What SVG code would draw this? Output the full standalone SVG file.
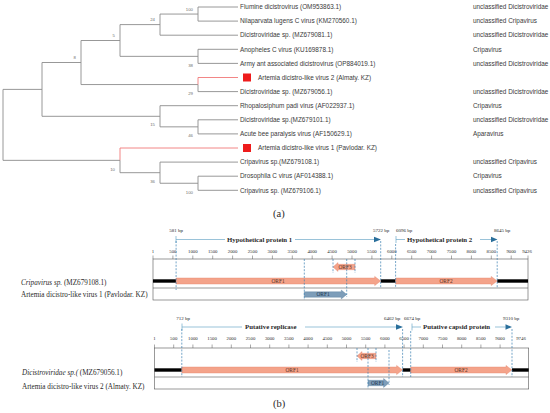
<svg xmlns="http://www.w3.org/2000/svg" width="550" height="413" viewBox="0 0 550 413">
<style>
.br{fill:none;stroke:#8c8c8c;stroke-width:0.9}
.red{fill:none;stroke:#f07878;stroke-width:0.9}
.tip{font-family:"Liberation Sans",Arial,sans-serif;font-size:6.4px;fill:#3a3a3a}
.bs{font-family:"Liberation Sans",Arial,sans-serif;font-size:4.3px;fill:#707070;text-anchor:end}
.sq{fill:#ee1c1c}
.sr{font-family:"Liberation Serif","Times New Roman",serif;fill:#2a2a2a}
.ax{font-size:4.8px;text-anchor:middle}
.bp{font-size:5px;text-anchor:middle}
.pn{font-size:6.8px;font-weight:bold}
.lb{font-size:7.2px}
.box{fill:none;stroke:#555;stroke-width:0.6}
.tk{stroke:#555;stroke-width:0.5}
.bar{fill:#000}
.orf{fill:#f4a38a;stroke:#e4846a;stroke-width:0.4}
.orfb{fill:#7d9db9;stroke:#5c819f;stroke-width:0.4}
.ol{font-family:"Liberation Serif","Times New Roman",serif;font-size:5.4px;text-anchor:middle;fill:#5a2e20}
.olb{font-family:"Liberation Serif","Times New Roman",serif;font-size:5.4px;text-anchor:middle;fill:#1e3650}
.dash{stroke:#3b7fb1;stroke-width:0.7;stroke-dasharray:2 1.4}
.pl{stroke:#6fa9c9;stroke-width:0.7;fill:none}
.ah{fill:#2a6f9b}
</style>

<!-- ===== (a) phylogenetic tree ===== -->
<g id="connectors">
<path class="br" d="M3,89.4V160.35M3,89.4H42M3,160.35H120"/>
<path class="br" d="M42,62.5V116.3M42,62.5H81M42,116.3H160"/>
<path class="br" d="M81,40.5V84.55M81,40.5H120M81,84.55H198"/>
<path class="br" d="M120,24.6V56.35M120,24.6H160M120,56.35H198"/>
<path class="br" d="M160,14.05V35.2M160,14.05H198M160,35.2H238"/>
<path class="br" d="M198,7V21.1M198,7H238M198,21.1H238"/>
<path class="br" d="M198,49.3V63.4M198,49.3H238M198,63.4H238"/>
<path class="br" d="M198,84.55V91.6M198,91.6H238"/>
<path class="red" d="M198,84.55V77.5H238"/>
<path class="br" d="M160,105.7V126.85M160,105.7H238M160,126.85H198"/>
<path class="br" d="M198,119.8V133.9M198,119.8H238M198,133.9H238"/>
<path class="red" d="M120,160.35V148H238"/>
<path class="br" d="M120,160.35V172.7H160"/>
<path class="br" d="M160,162.1V183.25M160,162.1H238M160,183.25H198"/>
<path class="br" d="M198,176.2V190.3M198,176.2H238M198,190.3H238"/>
</g>

<g id="bootstrap">
<text class="bs" x="193" y="10.5">100</text>
<text class="bs" x="155" y="21.1">24</text>
<text class="bs" x="115" y="37">5</text>
<text class="bs" x="193" y="66.9">38</text>
<text class="bs" x="76" y="59">8</text>
<text class="bs" x="193" y="95">29</text>
<text class="bs" x="155" y="126">15</text>
<text class="bs" x="193" y="137.4">46</text>
<text class="bs" x="115" y="170.9">10</text>
<text class="bs" x="155" y="183.2">36</text>
<text class="bs" x="193" y="193.8">100</text>
</g>

<g id="tip-flumine"><text class="tip" x="240" y="9.2">Flumine dicistrovirus (OM953863.1)</text><text class="tip" x="473" y="9.2">unclassified Dicistroviridae</text></g>
<g id="tip-nilaparvata"><text class="tip" x="240" y="23.3">Nilaparvata lugens C virus (KM270560.1)</text><text class="tip" x="473" y="23.3">unclassified Cripavirus</text></g>
<g id="tip-mz679081"><text class="tip" x="240" y="37.4">Dicistroviridae sp. (MZ679081.1)</text><text class="tip" x="473" y="37.4">unclassified Dicistroviridae</text></g>
<g id="tip-anopheles"><text class="tip" x="240" y="51.5">Anopheles C virus (KU169878.1)</text><text class="tip" x="473" y="51.5">Cripavirus</text></g>
<g id="tip-armyant"><text class="tip" x="240" y="65.6">Army ant associated dicistrovirus (OP884019.1)</text><text class="tip" x="473" y="65.6">unclassified Dicistroviridae</text></g>
<g id="tip-artemia2"><rect class="sq" x="243" y="73.5" width="8" height="8"/><text class="tip" x="258" y="79.7">Artemia dicistro-like virus 2 (Almaty. KZ)</text></g>
<g id="tip-mz679056"><text class="tip" x="240" y="93.8">Dicistroviridae sp. (MZ679056.1)</text><text class="tip" x="473" y="93.8">unclassified Dicistroviridae</text></g>
<g id="tip-rhopalosiphum"><text class="tip" x="240" y="107.9">Rhopalosiphum padi virus (AF022937.1)</text><text class="tip" x="473" y="107.9">Cripavirus</text></g>
<g id="tip-mz679101"><text class="tip" x="240" y="122">Dicistroviridae sp.(MZ679101.1)</text><text class="tip" x="473" y="122">unclassified Dicistroviridae</text></g>
<g id="tip-acutebee"><text class="tip" x="240" y="136.1">Acute bee paralysis virus (AF150629.1)</text><text class="tip" x="473" y="136.1">Aparavirus</text></g>
<g id="tip-artemia1"><rect class="sq" x="243" y="144" width="8" height="8"/><text class="tip" x="258" y="150.2">Artemia dicistro-like virus 1 (Pavlodar. KZ)</text></g>
<g id="tip-mz679108"><text class="tip" x="240" y="164.3">Cripavirus sp.(MZ679108.1)</text><text class="tip" x="473" y="164.3">unclassified Cripavirus</text></g>
<g id="tip-drosophila"><text class="tip" x="240" y="178.4">Drosophila C virus (AF014388.1)</text><text class="tip" x="473" y="178.4">Cripavirus</text></g>
<g id="tip-mz679106"><text class="tip" x="240" y="192.5">Cripavirus sp. (MZ679106.1)</text><text class="tip" x="473" y="192.5">unclassified Cripavirus</text></g>

<text class="sr" x="273" y="216.5" font-size="10.5">(a)</text>

<!-- ===== (b) genome map 1 ===== -->
<g id="genome1">
<g class="sr bp">
<text x="176" y="231.5">581 bp</text>
<text x="381" y="231.5">5722 bp</text>
<text x="404" y="231.5">6096 bp</text>
<text x="502" y="231.5">8645 bp</text>
</g>
<path class="pl" d="M176,236V243M176,239.5H225M295,239.5H375M396,236V243M396,239.5H405M480,239.5H491"/>
<path class="ah" d="M374,236.8L381,239.5L374,242.2Z M491,236.8L497.5,239.5L491,242.2Z"/>
<text class="sr pn" x="227" y="241.9">Hypothetical protein 1</text>
<text class="sr pn" x="407" y="241.9">Hypothetical protein 2</text>
<g class="sr ax">
<text x="153" y="252.5">1</text><text x="172.9" y="252.5">500</text><text x="192.8" y="252.5">1000</text><text x="212.7" y="252.5">1500</text><text x="232.6" y="252.5">2000</text><text x="252.5" y="252.5">2500</text><text x="272.4" y="252.5">3000</text><text x="292.3" y="252.5">3500</text><text x="312.2" y="252.5">4000</text><text x="332.1" y="252.5">4500</text><text x="352" y="252.5">5000</text><text x="371.9" y="252.5">5500</text><text x="391.8" y="252.5">6000</text><text x="411.7" y="252.5">6500</text><text x="431.6" y="252.5">7000</text><text x="451.5" y="252.5">7500</text><text x="471.4" y="252.5">8000</text><text x="491.3" y="252.5">8500</text><text x="511.2" y="252.5">9000</text><text x="527" y="252.5">9426</text>
</g>
<path class="tk" d="M153,255.5V259M172.9,255.5V259M192.8,255.5V259M212.7,255.5V259M232.6,255.5V259M252.5,255.5V259M272.4,255.5V259M292.3,255.5V259M312.2,255.5V259M332.1,255.5V259M352,255.5V259M371.9,255.5V259M391.8,255.5V259M411.7,255.5V259M431.6,255.5V259M451.5,255.5V259M471.4,255.5V259M491.3,255.5V259M511.2,255.5V259M528,255.5V259"/>
<rect class="box" x="153" y="259" width="375" height="41"/>
<line class="box" x1="153" y1="288" x2="528" y2="288"/>
<rect class="bar" x="153" y="279.3" width="23.1" height="3.4"/>
<rect class="bar" x="380.7" y="279.3" width="14.9" height="3.4"/>
<rect class="bar" x="497.2" y="279.3" width="30.8" height="3.4"/>
<path class="orf" d="M176.1,278H374.7V276.4L380.7,281L374.7,285.6V284H176.1Z"/>
<path class="orf" d="M395.6,278H491.2V276.4L497.2,281L491.2,285.6V284H395.6Z"/>
<path class="orf" d="M355,264.3H338V262.6L333,267L338,271.4V269.7H355Z"/>
<path class="orfb" d="M304.3,291.8H341.3V290.1L346.7,294.5L341.3,298.9V297.2H304.3Z"/>
<text class="ol" x="278" y="282.9">ORF1</text>
<text class="ol" x="446" y="282.9">ORF2</text>
<text class="ol" x="345" y="268.9">ORF3</text>
<text class="olb" x="323" y="296.4">ORF1</text>
<path class="dash" d="M176.1,241V290M380.7,241V288M395.6,244V288M497.2,241V288M304.3,259V300M346.7,259V297M333,259V273M355,259V273"/>
<text class="sr lb" x="21" y="284.5"><tspan font-style="italic">Cripavirus sp.</tspan> (MZ679108.1)</text>
<text class="sr lb" x="21" y="297">Artemia dicistro-like virus 1 (Pavlodar. KZ)</text>
</g>

<!-- ===== (b) genome map 2 ===== -->
<g id="genome2">
<g class="sr bp">
<text x="183" y="319.5">712 bp</text>
<text x="392" y="319.5">6462 bp</text>
<text x="412" y="319.5">6674 bp</text>
<text x="511" y="319.5">9310 bp</text>
</g>
<path class="pl" d="M182,323.5V330.5M182,327H242M305,327H396M412,323.5V330.5M412,327H421M495,327H505.5"/>
<path class="ah" d="M396,324.3L403,327L396,329.7Z M505.5,324.3L512,327L505.5,329.7Z"/>
<text class="sr pn" x="245" y="329.4">Putative replicase</text>
<text class="sr pn" x="423" y="329.4">Putative capsid protein</text>
<g class="sr ax">
<text x="154.5" y="340">1</text><text x="173.7" y="340">500</text><text x="192.9" y="340">1000</text><text x="212.1" y="340">1500</text><text x="231.3" y="340">2000</text><text x="250.5" y="340">2500</text><text x="269.7" y="340">3000</text><text x="288.9" y="340">3500</text><text x="308.1" y="340">4000</text><text x="327.3" y="340">4500</text><text x="346.5" y="340">5000</text><text x="365.7" y="340">5500</text><text x="384.9" y="340">6000</text><text x="404.1" y="340">6500</text><text x="423.3" y="340">7000</text><text x="442.5" y="340">7500</text><text x="461.7" y="340">8000</text><text x="480.9" y="340">8500</text><text x="500.1" y="340">9000</text><text x="521" y="340">9746</text>
</g>
<path class="tk" d="M154.5,344.5V348M173.7,344.5V348M192.9,344.5V348M212.1,344.5V348M231.3,344.5V348M250.5,344.5V348M269.7,344.5V348M288.9,344.5V348M308.1,344.5V348M327.3,344.5V348M346.5,344.5V348M365.7,344.5V348M384.9,344.5V348M404.1,344.5V348M423.3,344.5V348M442.5,344.5V348M461.7,344.5V348M480.9,344.5V348M500.1,344.5V348"/>
<rect class="box" x="154.5" y="348" width="374.2" height="41"/>
<line class="box" x1="154.5" y1="377" x2="528.7" y2="377"/>
<rect class="bar" x="154.5" y="368.3" width="27.3" height="3.4"/>
<rect class="bar" x="402.6" y="368.3" width="8.1" height="3.4"/>
<rect class="bar" x="512" y="368.3" width="16.7" height="3.4"/>
<path class="orf" d="M181.8,367H396.6V365.4L402.6,370L396.6,374.6V373H181.8Z"/>
<path class="orf" d="M410.7,367H506V365.4L512,370L506,374.6V373H410.7Z"/>
<path class="orf" d="M376,353.3H362V351.6L357,356L362,360.4V358.7H376Z"/>
<path class="orfb" d="M368,380.3H383.6V378.6L389,383L383.6,387.4V385.7H368Z"/>
<text class="ol" x="292" y="371.9">ORF1</text>
<text class="ol" x="461" y="371.9">ORF2</text>
<text class="ol" x="367" y="357.9">ORF3</text>
<text class="olb" x="377.5" y="384.9">ORF1</text>
<path class="dash" d="M181.8,329V377M402.6,329V377M410.7,331V377M512,329V377M368,348V389M389,350V385M357,348V362M376,348V362"/>
<text class="sr lb" x="22" y="374.5"><tspan font-style="italic">Dicistroviridae sp.(</tspan> (MZ679056.1)</text>
<text class="sr lb" x="22" y="388.5">Artemia dicistro-like virus 2 (Almaty. KZ)</text>
</g>

<text class="sr" x="273" y="406.5" font-size="10.5">(b)</text>
</svg>
